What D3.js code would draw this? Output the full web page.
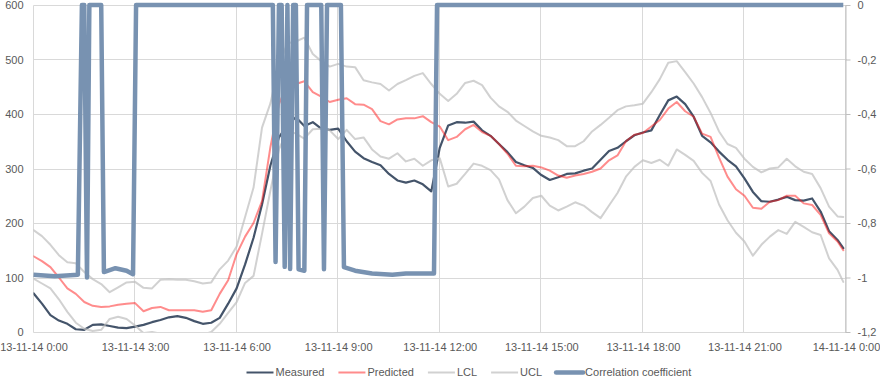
<!DOCTYPE html>
<html>
<head>
<meta charset="utf-8">
<script src="https://cdn.jsdelivr.net/npm/d3@7"></script>
<style>
body { margin: 0; background: #fff; }
svg text { font-family: "Liberation Sans", Arial, sans-serif; font-size: 11px; fill: #595959; }
</style>
</head>
<body>
<svg id="chart" width="880" height="378"></svg>
<script>
// 15 minute samples from 13-11-14 0:00, last one at 23:55
var measured = [71, 52, 31, 21, 15, 5, 4, 13, 14, 11, 8, 7, 10, 13, 18, 22, 27, 29, 26, 20,
    15, 17, 26, 52, 80, 124, 173, 234, 306, 357, 380, 394, 378, 385, 373, 371, 373, 350, 331, 319,
    312, 306, 290, 278, 274, 278, 271, 258, 338, 379, 385, 384, 386, 370, 360, 345, 330, 312, 306, 301,
    288, 279, 284, 290, 291, 296, 300, 316, 332, 338, 350, 361, 366, 370, 398, 425, 432, 418, 395, 360,
    348, 331, 316, 304, 282, 257, 240, 239, 243, 248, 242, 241, 245, 221, 185, 169, 154];
var predicted = [139, 130, 119, 100, 80, 70, 55, 48, 46, 47, 50, 52, 53, 38, 44, 46, 40, 40, 40, 40,
    37, 40, 70, 95, 143, 175, 200, 240, 340, 418, 455, 455, 460, 440, 432, 422, 426, 429, 418, 417,
    409, 387, 381, 390, 392, 392, 396, 385, 377, 352, 358, 372, 380, 367, 360, 345, 327, 305, 304, 305,
    302, 296, 287, 283, 287, 290, 294, 300, 315, 324, 350, 362, 365, 377, 389, 410, 422, 405, 395, 364,
    358, 320, 285, 262, 250, 228, 226, 239, 242, 250, 250, 236, 233, 215, 181, 166, 150];
var lcl = [98, 89, 80, 60, 37, 17, 6, 2, 4, 24, 28, 24, 12, -2, 0, -3, -8, -10, -10, -8,
    -5, 0, 15, 35, 55, 90, 103, 180, 260, 335, 370, 364, 355, 372, 373, 370, 354, 371, 354, 357,
    335, 322, 318, 328, 313, 318, 305, 315, 319, 267, 272, 290, 309, 305, 297, 280, 242, 218, 230, 246,
    250, 232, 223, 230, 238, 232, 220, 209, 232, 255, 285, 303, 315, 310, 316, 305, 335, 325, 314, 292,
    277, 234, 205, 182, 166, 140, 160, 175, 187, 180, 202, 193, 183, 178, 135, 114, 92];
var ucl = [187, 176, 160, 141, 128, 126, 110, 97, 88, 73, 82, 91, 92, 81, 80, 96, 97, 96, 96, 93,
    89, 91, 115, 131, 157, 211, 265, 375, 420, 490, 530, 533, 540, 510, 497, 487, 492, 487, 486, 462,
    458, 455, 443, 455, 462, 470, 475, 455, 437, 424, 437, 457, 461, 453, 430, 414, 404, 388, 378, 368,
    360, 357, 352, 341, 341, 350, 368, 380, 393, 407, 414, 416, 419, 440, 464, 494, 497, 477, 456, 431,
    402, 368, 345, 338, 318, 303, 293, 300, 302, 318, 304, 294, 290, 264, 230, 212, 211];

// correlation coefficient, read at its turning points (hour, value)
var corrHours = [0, 0.63, 1.31, 1.43, 1.5, 1.58, 1.65, 2.0, 2.08, 2.42, 2.75, 2.94, 3.03,
    7.07, 7.15, 7.25, 7.33, 7.42, 7.5, 7.58, 7.67, 7.75, 7.83, 8.0, 8.08, 8.5, 8.58, 8.67,
    9.08, 9.17, 9.5, 10.0, 10.6, 11.0, 11.83, 11.92, 23.92];
var corrValues = [-0.99, -0.995, -0.99, 0, 0, -1.0, 0, 0, -0.98, -0.966, -0.975, -0.988, 0,
    0, -0.943, 0, 0, -0.961, 0, -0.969, 0, 0, -0.97, -0.975, 0, 0, -0.97, 0,
    0, -0.962, -0.975, -0.985, -0.99, -0.985, -0.985, 0, 0];

var xTicks = [0, 3, 6, 9, 12, 15, 18, 21, 24];
var xLabels = ["13-11-14 0:00", "13-11-14 3:00", "13-11-14 6:00", "13-11-14 9:00", "13-11-14 12:00",
    "13-11-14 15:00", "13-11-14 18:00", "13-11-14 21:00", "14-11-14 0:00"];
var leftTicks = [0, 100, 200, 300, 400, 500, 600];
var rightTicks = [0, -0.2, -0.4, -0.6, -0.8, -1, -1.2];
var rightLabels = ["0", "-0,2", "-0,4", "-0,6", "-0,8", "-1", "-1,2"];
var legendNames = ["Measured", "Predicted", "LCL", "UCL", "Correlation coefficient"];

var svg = d3.select("#chart");
var plotLeft = 33.5, plotRight = 846, plotTop = 5, plotBottom = 332;

var x = d3.scaleLinear().domain([0, 24]).range([plotLeft, plotRight]);
var y = d3.scaleLinear().domain([0, 600]).range([plotBottom, plotTop]);
var y2 = d3.scaleLinear().domain([-1.2, 0]).range([plotBottom, plotTop]);

function crisp(v) { return Math.round(v) + 0.5; }

// gridlines
svg.append("g").selectAll("line").data(leftTicks).enter().append("line")
    .attr("x1", crisp(plotLeft) - 1).attr("x2", crisp(plotRight))
    .attr("y1", function (d) { return crisp(y(d)); })
    .attr("y2", function (d) { return crisp(y(d)); })
    .attr("stroke", "#d9d9d9").attr("stroke-width", 1);
svg.append("g").selectAll("line").data(xTicks).enter().append("line")
    .attr("x1", function (d) { return crisp(x(d)) - 1; })
    .attr("x2", function (d) { return crisp(x(d)) - 1; })
    .attr("y1", crisp(plotTop)).attr("y2", crisp(plotBottom))
    .attr("stroke", "#d9d9d9").attr("stroke-width", 1);

// axes
var yAxis = svg.append("g").attr("transform", "translate(" + plotLeft + ",0)")
    .call(d3.axisLeft(y).tickValues(leftTicks).tickSize(0).tickPadding(10));
yAxis.select(".domain").remove();

var xAxis = svg.append("g").attr("transform", "translate(0," + plotBottom + ")")
    .call(d3.axisBottom(x).tickValues(xTicks).tickSize(0).tickPadding(11)
        .tickFormat(function (d, i) { return xLabels[i]; }));
xAxis.select(".domain").remove();

var y2Axis = svg.append("g").attr("transform", "translate(" + (plotRight - 0.5) + ",0)")
    .call(d3.axisRight(y2).tickValues(rightTicks).tickSize(5).tickSizeOuter(0).tickPadding(7)
        .tickFormat(function (d, i) { return rightLabels[i]; }));
y2Axis.select(".domain").attr("stroke", "#bfbfbf");
y2Axis.selectAll(".tick line").attr("stroke", "#bfbfbf");
svg.selectAll(".tick text").attr("fill", "#595959").style("font-size", "11px")
    .style("font-family", "'Liberation Sans', Arial, sans-serif");

svg.append("clipPath").attr("id", "plot")
    .append("rect").attr("x", plotLeft).attr("y", 0)
    .attr("width", plotRight - plotLeft + 2).attr("height", plotBottom);

var hours = d3.range(measured.length).map(function (i) { return Math.min(i * 0.25, 23.92); });
var line = d3.line()
    .x(function (d, i) { return x(hours[i]); })
    .y(function (d) { return y(d); });

var styles = {
    "Measured": { color: "#44546a", width: 2.2, opacity: 1 },
    "Predicted": { color: "#ff1a1a", width: 2, opacity: 0.5 },
    "LCL": { color: "#bdbdbd", width: 2, opacity: 0.7 },
    "UCL": { color: "#bdbdbd", width: 2, opacity: 0.7 },
    "Correlation coefficient": { color: "#7892b1", width: 4.5, opacity: 1 }
};
var seriesData = { "Measured": measured, "Predicted": predicted, "LCL": lcl, "UCL": ucl };

var plot = svg.append("g").attr("clip-path", "url(#plot)");
["Measured", "Predicted", "LCL", "UCL"].forEach(function (name) {
    var s = styles[name];
    plot.append("path").datum(seriesData[name])
        .attr("d", line)
        .attr("fill", "none")
        .attr("stroke", s.color)
        .attr("stroke-opacity", s.opacity)
        .attr("stroke-width", s.width)
        .attr("stroke-linejoin", "round")
        .attr("stroke-linecap", "round");
});

var corrLine = d3.line()
    .x(function (d, i) { return x(corrHours[i]); })
    .y(function (d) { return y2(d); });
svg.append("path").datum(corrValues)
    .attr("d", corrLine)
    .attr("fill", "none")
    .attr("stroke", styles["Correlation coefficient"].color)
    .attr("stroke-width", styles["Correlation coefficient"].width)
    .attr("stroke-linejoin", "round");

// legend
var legend = svg.append("g").attr("transform", "translate(0,372.5)");
var lx = 246.5;
legendNames.forEach(function (name) {
    var s = styles[name];
    legend.append("line")
        .attr("x1", lx).attr("x2", lx + 27).attr("y1", 0).attr("y2", 0)
        .attr("stroke", s.color).attr("stroke-opacity", s.opacity)
        .attr("stroke-width", name == "Correlation coefficient" ? 4.5 : 2)
        .attr("stroke-linecap", name == "Correlation coefficient" ? "round" : "butt");
    var t = legend.append("text").attr("x", lx + 29).attr("y", 3.5).text(name);
    lx = lx + 29 + t.node().getComputedTextLength() + 14;
});
</script>
</body>
</html>
